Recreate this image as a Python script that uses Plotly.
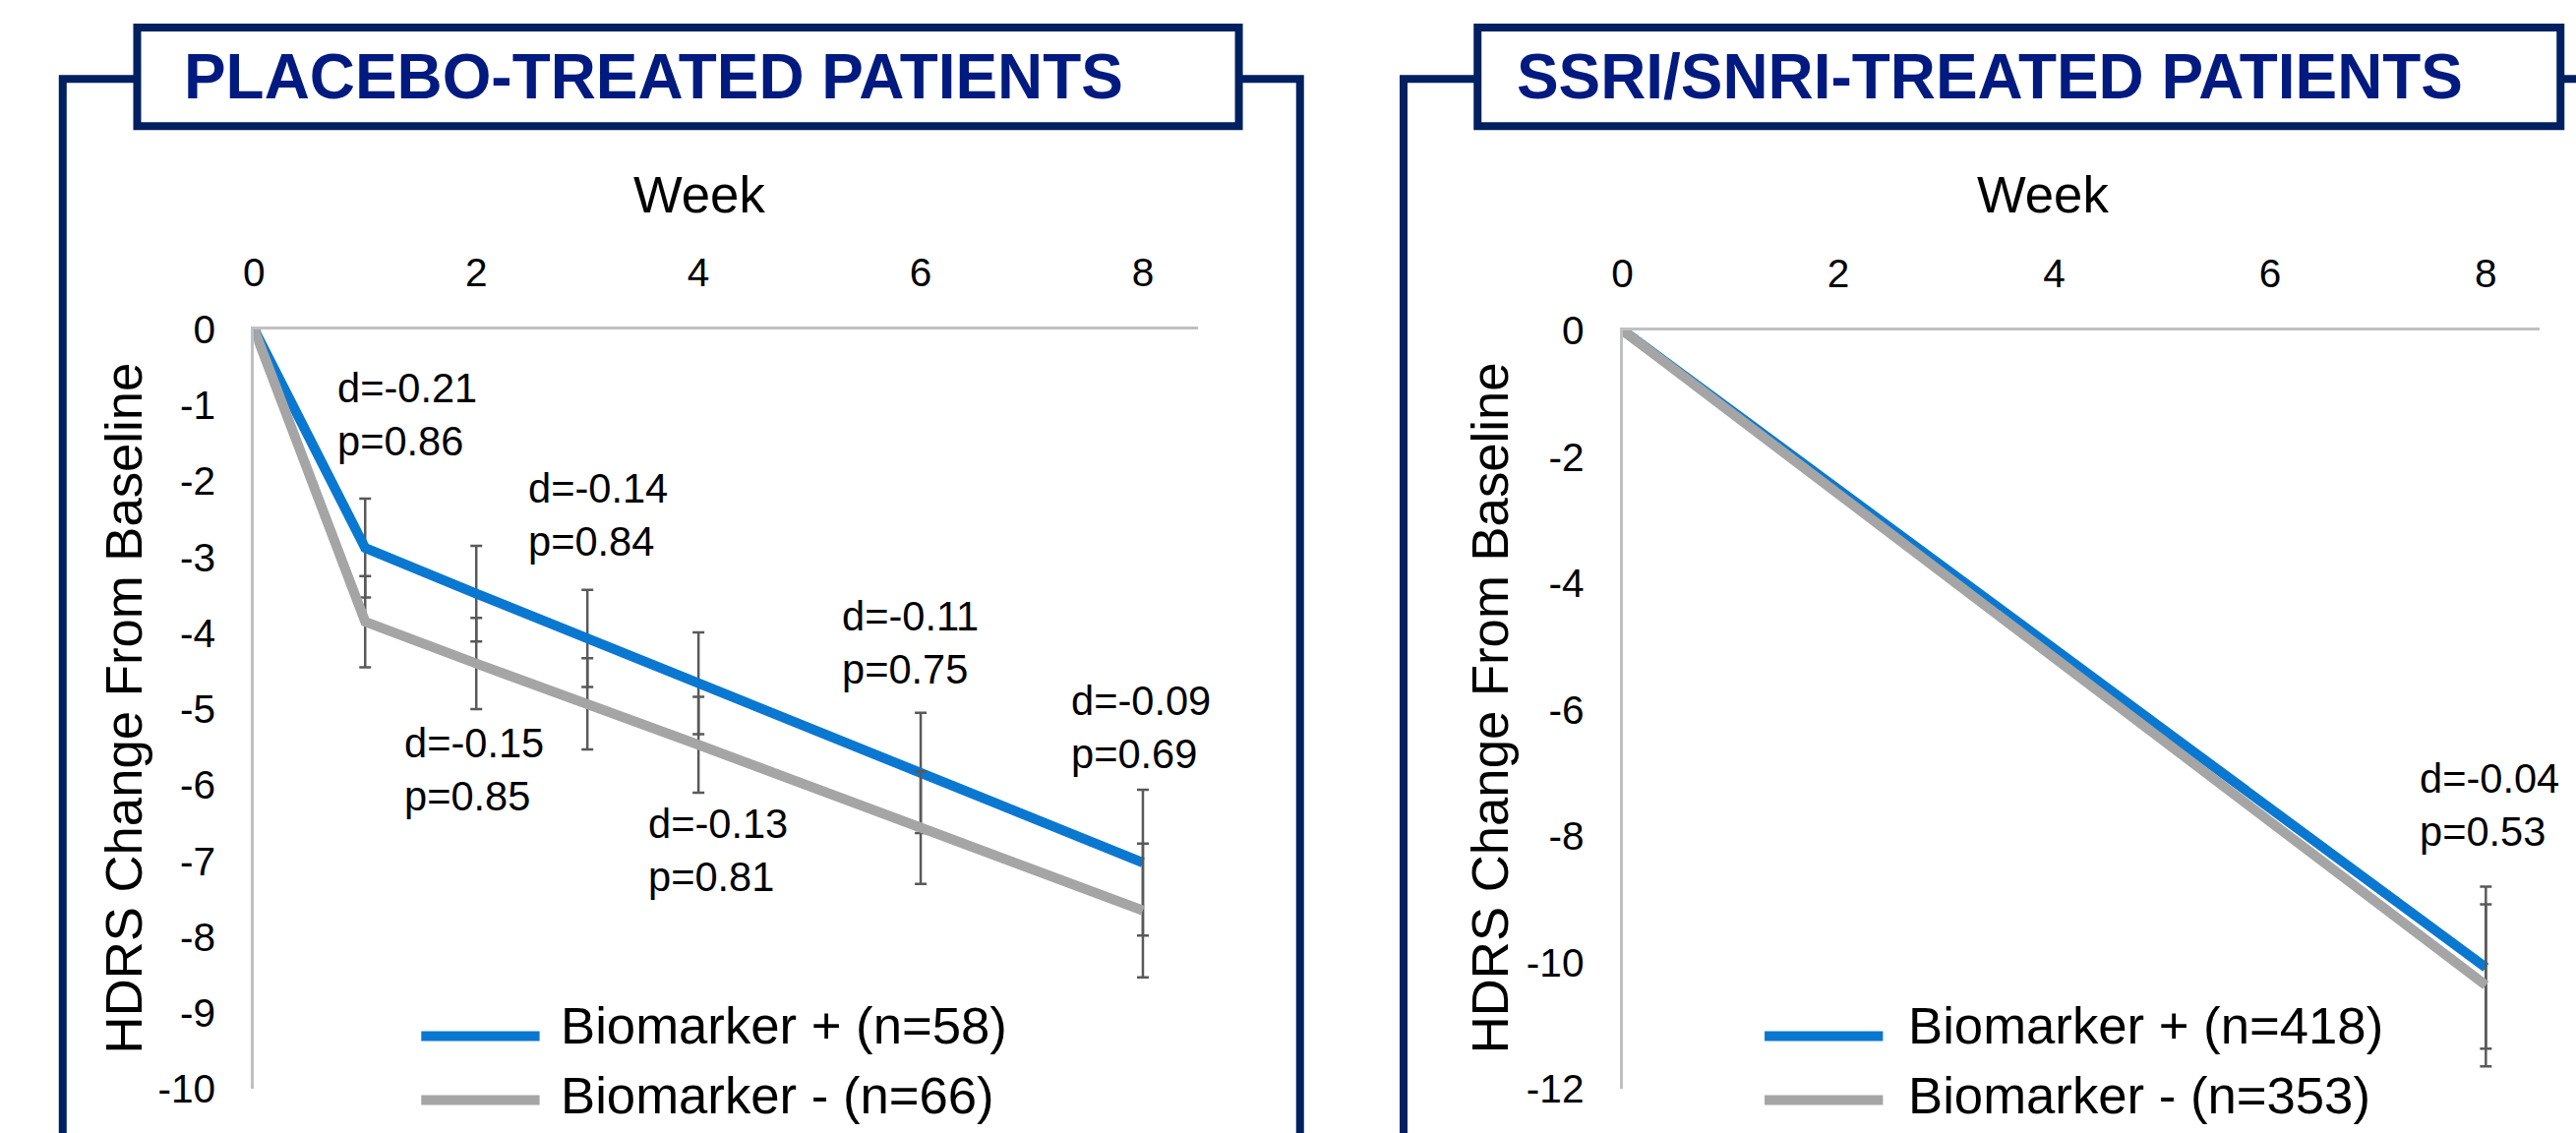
import plotly.graph_objects as go

# ---------------- data ----------------
placebo_weeks = [0, 1, 2, 3, 4, 6, 8]
placebo_pos = [0, -2.88, -3.48, -4.07, -4.66, -5.84, -7.02]
placebo_pos_err = [None, 0.65, 0.63, 0.64, 0.67, 0.79, 0.96]
placebo_neg = [0, -3.85, -4.40, -4.93, -5.47, -6.56, -7.65]
placebo_neg_err = [None, 0.60, 0.60, 0.60, 0.63, 0.74, 0.88]

ssri_weeks = [0, 8]
ssri_pos = [0, -10.08]
ssri_pos_err = [None, 1.28]
ssri_neg = [0, -10.36]
ssri_neg_err = [None, 1.28]

placebo_stats = ["d=-0.21<br>p=0.86", "d=-0.14<br>p=0.84", "d=-0.15<br>p=0.85",
                 "d=-0.13<br>p=0.81", "d=-0.11<br>p=0.75", "d=-0.09<br>p=0.69"]
ssri_stats = ["d=-0.04<br>p=0.53"]

placebo_legend = ["Biomarker + (n=58)", "Biomarker - (n=66)"]
ssri_legend = ["Biomarker + (n=418)", "Biomarker - (n=353)"]

panel_titles = ["PLACEBO-TREATED PATIENTS", "SSRI/SNRI-TREATED PATIENTS"]

x_ticks = [0, 2, 4, 6, 8]
x_tick_labels = ["0", "2", "4", "6", "8"]
placebo_y_ticks = [0, -1, -2, -3, -4, -5, -6, -7, -8, -9, -10]
placebo_y_tick_labels = ["0", "-1", "-2", "-3", "-4", "-5", "-6", "-7", "-8", "-9", "-10"]
ssri_y_ticks = [0, -2, -4, -6, -8, -10, -12]
ssri_y_tick_labels = ["0", "-2", "-4", "-6", "-8", "-10", "-12"]

# label anchor positions (axis units)
placebo_stat_pos = [(0.73, -1.12), (2.45, -2.44), (1.33, -5.80),
                    (3.53, -6.86), (5.27, -4.13), (7.34, -5.24)]
ssri_stat_pos = [(7.37, -7.51)]

# ---------------- styling ----------------
W, H = 2619, 1152
# page-to-figure mapping (body margin around the plot div)
X_SCALE, X_OFF = 0.99725, 3.9
PAGE_PAD = 8
SY = (H + 2 * PAGE_PAD) / H
FS = SY  # font scale so text keeps its size on the final page

FONT = "Liberation Sans, Arial, Helvetica, sans-serif"
BLUE = "#0A78D1"
GREY = "#A5A5A5"
NAVY = "#002060"
TITLE_BLUE = "#001A80"
ERR = "#595959"
AXIS = "#C0C0C0"


def fx(p):
    """page pixel column -> paper fraction"""
    return ((p - X_OFF) / X_SCALE) / W


def fy(p):
    """page pixel row -> paper fraction"""
    return 1 - (p * SY - PAGE_PAD) / H


def fs(size):
    return round(size * FS, 1)


fig = go.Figure()


def add_series(xs, ys, errs, color, xa, ya):
    fig.add_trace(go.Scatter(
        x=xs, y=ys, mode="lines",
        line=dict(color=color, width=10),
        error_y=dict(type="data", array=errs, visible=True,
                     color=ERR, thickness=2.5, width=6),
        xaxis=xa, yaxis=ya, showlegend=False, hoverinfo="skip",
    ))


add_series(placebo_weeks, placebo_pos, placebo_pos_err, BLUE, "x", "y")
add_series(placebo_weeks, placebo_neg, placebo_neg_err, GREY, "x", "y")
add_series(ssri_weeks, ssri_pos, ssri_pos_err, BLUE, "x2", "y2")
add_series(ssri_weeks, ssri_neg, ssri_neg_err, GREY, "x2", "y2")

axis_common = dict(showgrid=False, zeroline=False, showline=True,
                   linecolor=AXIS, linewidth=3, ticks="", automargin=False,
                   tickfont=dict(family=FONT, size=fs(40), color="black"))

fig.update_layout(
    width=W, height=H, autosize=False,
    margin=dict(l=0, r=0, t=0, b=0),
    paper_bgcolor="white", plot_bgcolor="white",
    font=dict(family=FONT, color="black"),
    xaxis=dict(domain=[fx(261.5), fx(1219)], range=[0, 8.5], side="top",
               anchor="y", tickvals=x_ticks, ticktext=x_tick_labels,
               ticklabelstandoff=24, **axis_common),
    yaxis=dict(domain=[fy(1100), fy(338)], range=[-10, 0], anchor="x",
               tickvals=placebo_y_ticks, ticktext=placebo_y_tick_labels,
               ticklabelstandoff=28, **axis_common),
    xaxis2=dict(domain=[fx(1649), fx(2579)], range=[0, 8.5], side="top",
                anchor="y2", tickvals=x_ticks, ticktext=x_tick_labels,
                ticklabelstandoff=24, **axis_common),
    yaxis2=dict(domain=[fy(1100), fy(339)], range=[-12, 0], anchor="x2",
                tickvals=ssri_y_ticks, ticktext=ssri_y_tick_labels,
                ticklabelstandoff=28, **axis_common),
)

annotations = []

# effect size / p-value labels
for txt, (ax, ay) in zip(placebo_stats, placebo_stat_pos):
    annotations.append(dict(x=ax, y=ay, xref="x", yref="y", text=txt,
                            showarrow=False, xanchor="left", yanchor="middle",
                            align="left", font=dict(size=fs(41), color="black")))
for txt, (ax, ay) in zip(ssri_stats, ssri_stat_pos):
    annotations.append(dict(x=ax, y=ay, xref="x2", yref="y2", text=txt,
                            showarrow=False, xanchor="left", yanchor="middle",
                            align="left", font=dict(size=fs(41), color="black")))

# axis titles
for cx in (713, 2075):
    annotations.append(dict(x=fx(cx), y=fy(203), xref="paper", yref="paper",
                            text="Week", showarrow=False, xanchor="center",
                            yanchor="middle", font=dict(size=fs(52))))
for cx in (130, 1515):
    annotations.append(dict(x=fx(cx), y=fy(718), xref="paper", yref="paper",
                            text="HDRS Change From Baseline", textangle=-90,
                            showarrow=False, xanchor="center", yanchor="middle",
                            font=dict(size=fs(52))))

# panel titles
for txt, lx in zip(panel_titles, (188, 1540)):
    annotations.append(dict(x=fx(lx), y=fy(85), xref="paper", yref="paper",
                            text="<b>" + txt + "</b>", showarrow=False,
                            xanchor="left", yanchor="middle",
                            font=dict(size=fs(63), color=TITLE_BLUE)))

shapes = []

# legends drawn as key lines + labels
for labels, x0, x1, tx in ((placebo_legend, 431, 551, 570),
                           (ssri_legend, 1793, 1913, 1937)):
    for lab, col, ly, ty in zip(labels, (BLUE, GREY), (1047, 1111), (1036, 1106)):
        shapes.append(dict(type="line", xref="paper", yref="paper",
                           x0=fx(x0), x1=fx(x1), y0=fy(ly), y1=fy(ly),
                           line=dict(color=col, width=10)))
        annotations.append(dict(x=fx(tx), y=fy(ty), xref="paper", yref="paper",
                                text=lab, showarrow=False, xanchor="left",
                                yanchor="middle", font=dict(size=fs(52))))


def path(points):
    return "M " + " L ".join(f"{fx(px):.5f},{fy(py):.5f}" for px, py in points)


# panel frames
frame_paths = [
    [(143, 87), (67.5, 87), (67.5, H + 20)],
    [(1260, 87), (1322, 87), (1322, H + 20)],
    [(1502, 87), (1427, 87), (1427, H + 20)],
    [(2600, 87), (W + 20, 87)],
]
for pts in frame_paths:
    shapes.append(dict(type="path", xref="paper", yref="paper", path=path(pts),
                       line=dict(color=NAVY, width=8)))

for x0, x1 in ((143, 1260), (1502, 2600)):
    shapes.append(dict(type="rect", xref="paper", yref="paper",
                       x0=fx(x0), x1=fx(x1), y0=fy(35.5), y1=fy(134.5),
                       line=dict(color=NAVY, width=8), fillcolor="white"))

fig.update_layout(annotations=annotations, shapes=shapes)

fig.write_html("out.html")
